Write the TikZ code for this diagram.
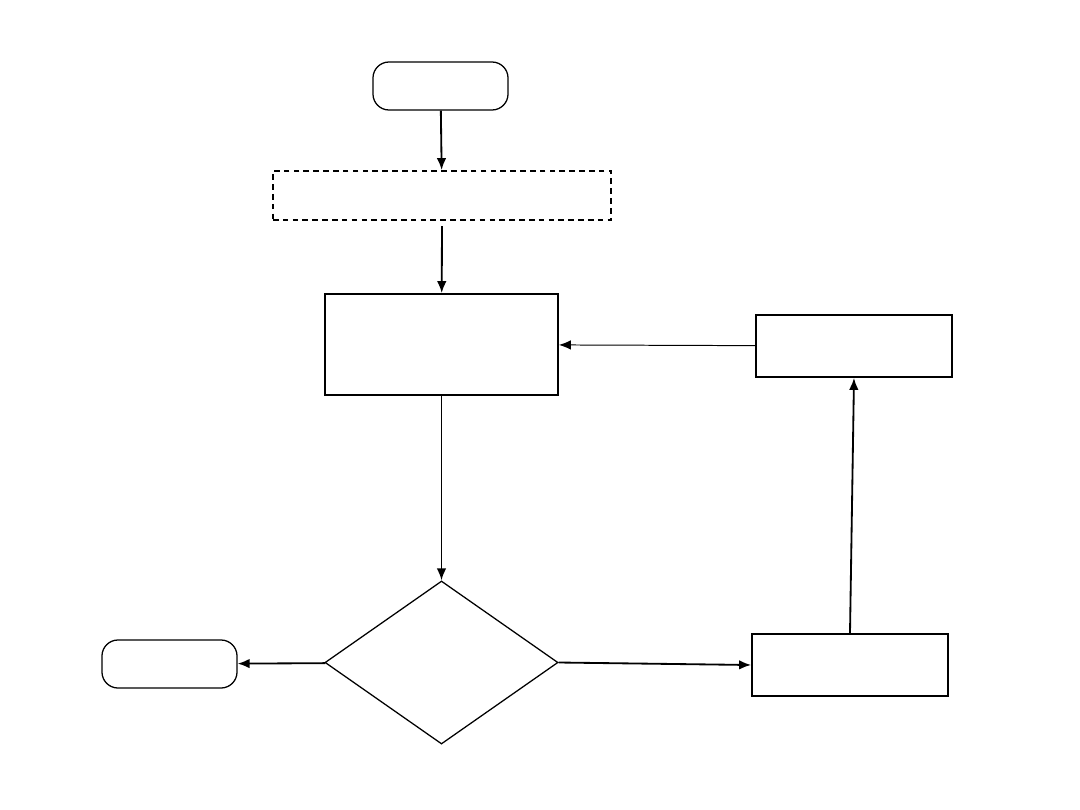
\documentclass[tikz,border=0pt]{standalone}
\usepackage{tikz}
\usetikzlibrary{arrows.meta,shapes.geometric}

\begin{document}
\begin{tikzpicture}[
  x=0.025cm, y=-0.025cm,
  >={Latex[length=3mm,width=2.4mm]},
  box/.style={draw, line width=1.3pt, inner sep=0pt},
  term/.style={draw, line width=0.9pt, rounded corners=4mm, inner sep=0pt, minimum width=3.375cm, minimum height=1.2cm},
  dbox/.style={box, dashed, dash pattern=on 4pt off 3pt, minimum width=8.45cm, minimum height=1.225cm},
  proc/.style={box, minimum width=5.825cm, minimum height=2.525cm},
  side/.style={box, minimum width=4.9cm, minimum height=1.55cm},
  dec/.style={draw, diamond, line width=0.9pt, inner sep=0pt, minimum width=5.825cm, minimum height=4.075cm},
  arr/.style={->, line width=1.3pt}
]
\useasboundingbox (0,0) rectangle (1080,810);
\node[term] (start) at (440.5,86) {};
\node[dbox] (init) at (442,195.5) {};
\node[proc] (work) at (441.5,344.5) {};
\node[side] (adjust) at (854,346) {};
\node[dec] (check) at (441.5,662.5) {};
\node[term] (stop) at (169.5,664) {};
\node[side] (change) at (850,665) {};
\coordinate (initout) at (442,226);
\draw[arr] (start) -- (init);
\draw[arr] (initout) -- (work);
\draw[arr] (work) -- (check);
\draw[arr] (check) -- (stop);
\draw[arr] (check.east) -- (change.west);
\draw[arr] (change.north) -- (adjust.south);
\draw[->, line width=0.7pt] (adjust) -- (work);
\end{tikzpicture}
\end{document}
